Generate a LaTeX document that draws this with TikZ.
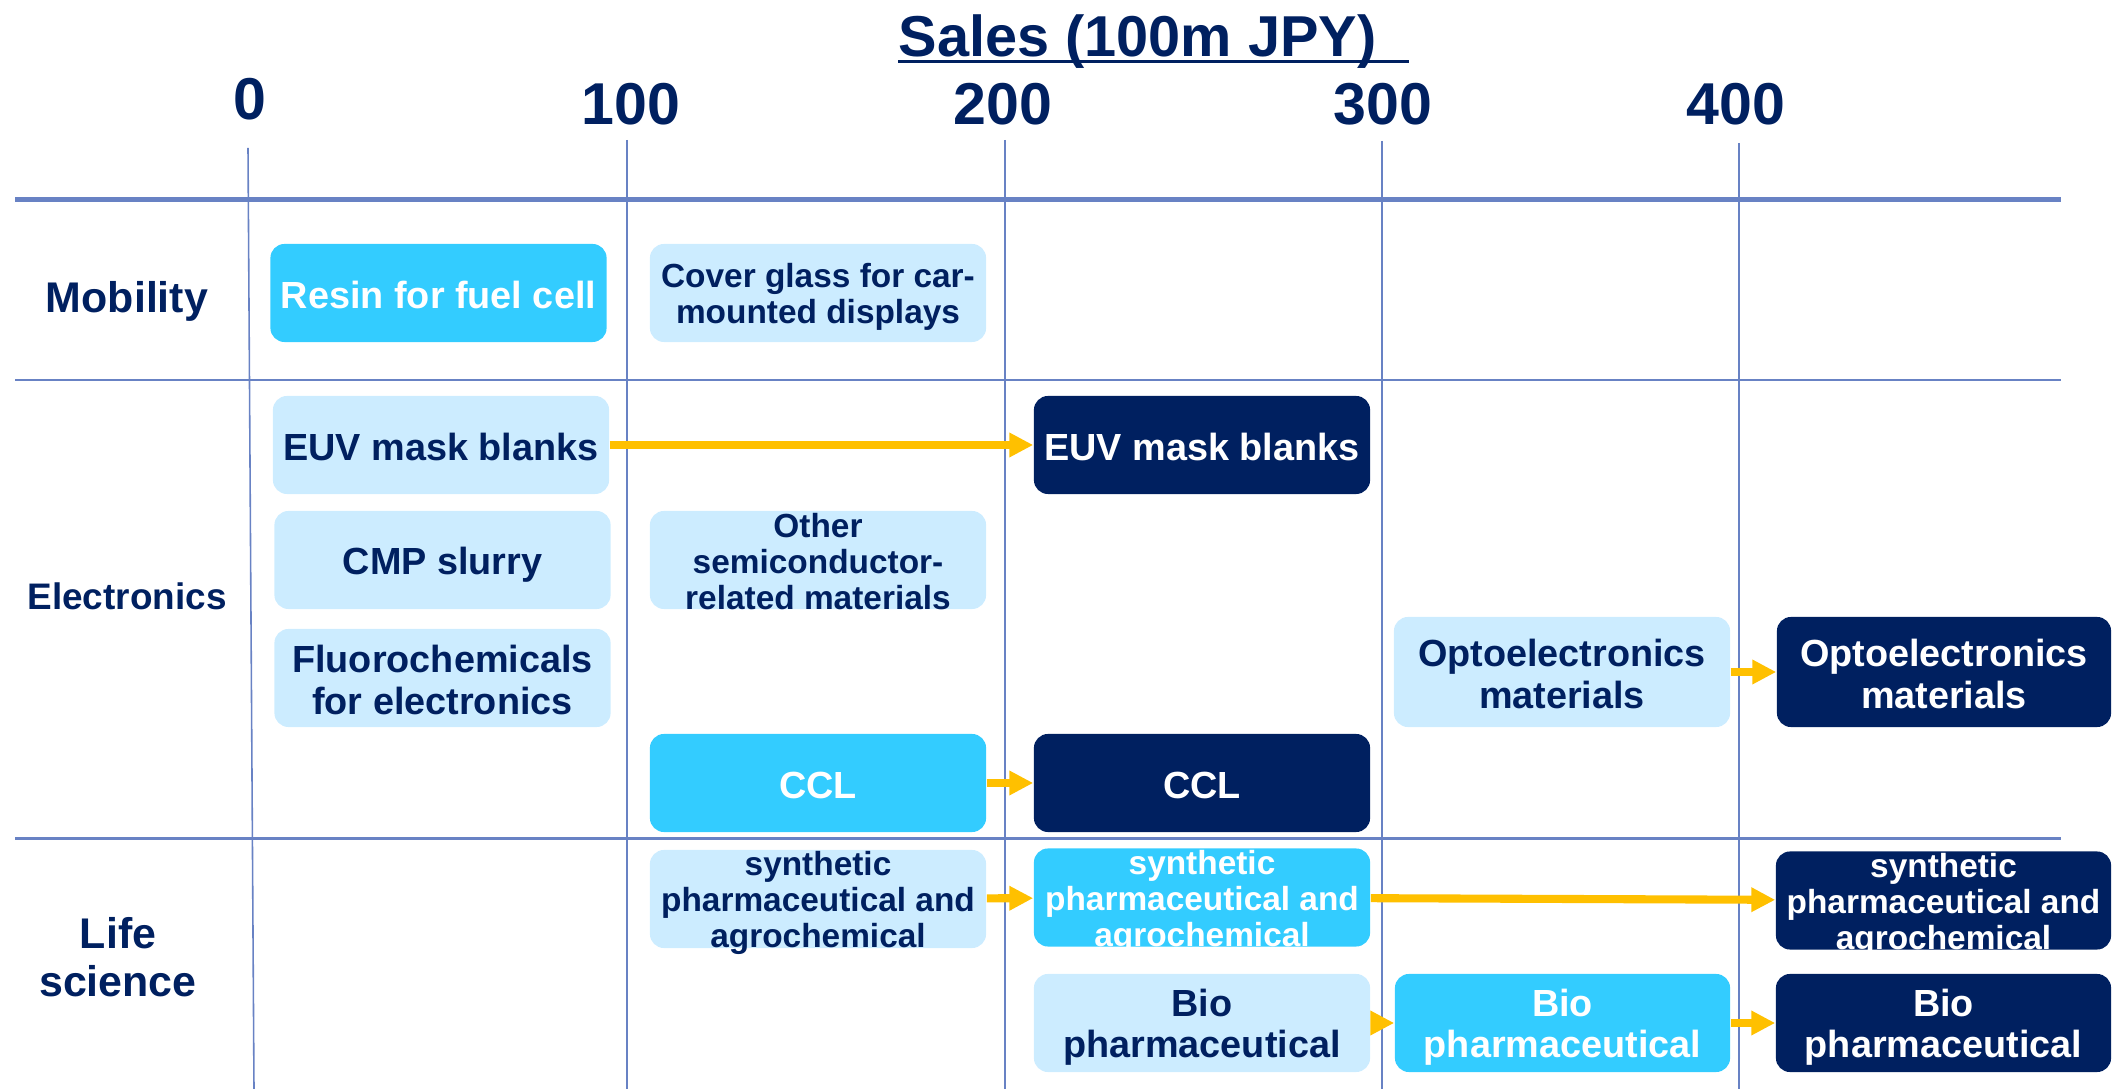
\documentclass[tikz,border=0pt]{standalone}
\usepackage{fontspec}
\setmainfont{Liberation Sans}
\usetikzlibrary{arrows.meta}

\definecolor{navy}{RGB}{0,32,96}
\definecolor{skycyan}{RGB}{51,204,255}
\definecolor{paleblue}{RGB}{204,236,255}
\definecolor{gridblue}{RGB}{104,130,196}
\definecolor{flowgold}{RGB}{255,192,0}

% 框内文字的上下支撑
\newcommand{\topstrut}{\rule{0pt}{0.97em}}
\newcommand{\botstrut}{\rule[-0.152em]{0pt}{0.152em}}

\begin{document}
\begin{tikzpicture}[x=0.01cm, y=-0.01cm,
    box/.style={rounded corners=4pt, minimum width=3.36cm, minimum height=0.98cm,
        inner sep=0pt, align=center, font=\bfseries\fontsize{10.75}{11.7}\selectfont,
        execute at begin node=\topstrut, execute at end node=\botstrut},
    lightbox/.style={box, fill=paleblue, text=navy},
    cyanbox/.style={box, fill=skycyan, text=white},
    darkbox/.style={box, fill=navy, text=white},
    smalltext/.style={font=\bfseries\fontsize{9.5}{10.25}\selectfont},
    overtext/.style={smalltext, inner sep=0pt, align=center},
    flow/.style={-{Triangle[length=6.8pt, width=6.6pt]}, line width=2.3pt, flowgold},
    gridline/.style={gridblue, line width=0.45pt},
    axisnum/.style={navy, anchor=base, inner sep=0pt, font=\bfseries\fontsize{16.8}{18}\selectfont},
    rowlabel/.style={navy, inner sep=0pt, align=center, font=\bfseries\fontsize{12.2}{13.8}\selectfont},
]
    \useasboundingbox (0,0) rectangle (2112,1089);

    % 标题
    \node[navy, anchor=base west, inner sep=0pt, font=\bfseries\fontsize{16.4}{18}\selectfont]
        (title) at (898,57) {Sales (100m JPY)};
    \draw[navy, line width=0.85pt] (898,61.5) -- (1409,61.5);

    % 刻度
    \foreach \x/\y/\t in {250/120/0, 631/125/100, 1003/125/200, 1383/125/300, 1736/125/400}
        \node[axisnum] (n\t) at (\x,\y) {\t};

    % 竖线
    \draw[gridline] (248,148) -- (254,1089);
    \foreach \x/\y in {627/140, 1005/140, 1382/141, 1739/143}
        \draw[gridline] (\x,\y) -- (\x,1089);

    % 横线
    \draw[gridline, line width=1.4pt] (15,199.5) -- (2061,199.5);
    \draw[gridline, line width=0.6pt] (15,380) -- (2061,380);
    \draw[gridline, line width=0.6pt] (15,838.5) -- (2061,838.5);

    % 行标签
    \node[rowlabel, anchor=base] (mob) at (127,313) {Mobility};
    \node[rowlabel, anchor=base, font=\bfseries\fontsize{10.5}{12}\selectfont] (ele) at (127,610) {Electronics};
    \node[rowlabel] (life) at (118,957) {Life\\science};

    % Mobility
    \node[cyanbox] (resin) at (438.5,293) {Resin for fuel cell};
    \node[lightbox, smalltext] (cover) at (818,293) {\topstrut Cover glass for car-\\mounted displays\botstrut};

    % Electronics
    \node[lightbox] (euvA) at (441,445) {EUV mask blanks};
    \node[lightbox] (cmp) at (442.5,560) {CMP slurry};
    \node[lightbox] (fluoro) at (442.5,678) {\topstrut Fluorochemicals\\for electronics\botstrut};
    \node[lightbox] (semi) at (818,560) {};
    \node[overtext, text=navy] (semiTxt) at (semi) {\topstrut Other\\semiconductor-\\related materials\botstrut};
    \node[cyanbox] (cclA) at (818,783) {CCL};
    \node[darkbox] (euvB) at (1202,445) {EUV mask blanks};
    \node[darkbox] (cclB) at (1202,783) {CCL};
    \node[lightbox, minimum height=1.1cm] (optoA) at (1562,672) {\topstrut Optoelectronics\\materials\botstrut};
    \node[darkbox, minimum height=1.1cm, minimum width=3.34cm] (optoB) at (1944,672) {\topstrut Optoelectronics\\materials\botstrut};

    % Life science（三行字超出框）
    \node[lightbox] (synA) at (818,899) {};
    \node[cyanbox] (synB) at (1202,897.5) {};
    \node[darkbox, minimum width=3.35cm] (synC) at (1943.5,900.5) {};
    \node[overtext, text=navy] (synATxt) at (synA) {\topstrut synthetic\\pharmaceutical and\\agrochemical\botstrut};
    \node[overtext, text=white] (synBTxt) at (synB) {\topstrut synthetic\\pharmaceutical and\\agrochemical\botstrut};
    \node[overtext, text=white] (synCTxt) at (synC) {\topstrut synthetic\\pharmaceutical and\\agrochemical\botstrut};
    \node[lightbox] (bioA) at (1202,1023) {\topstrut Bio\\pharmaceutical\botstrut};
    \node[cyanbox, minimum width=3.35cm] (bioB) at (1562.5,1023) {\topstrut Bio\\pharmaceutical\botstrut};
    \node[darkbox, minimum width=3.35cm] (bioC) at (1943.5,1023) {\topstrut Bio\\pharmaceutical\botstrut};

    % 箭头
    \draw[flow] (euvA) -- (euvB);
    \draw[flow] (cclA) -- (cclB);
    \draw[flow] (optoA) -- (optoB);
    \draw[flow] (synA) -- (synB);
    \draw[flow] (synB) -- (synC);
    \draw[flow] (bioA) -- (bioB);
    \draw[flow] (bioB) -- (bioC);
\end{tikzpicture}
\end{document}
